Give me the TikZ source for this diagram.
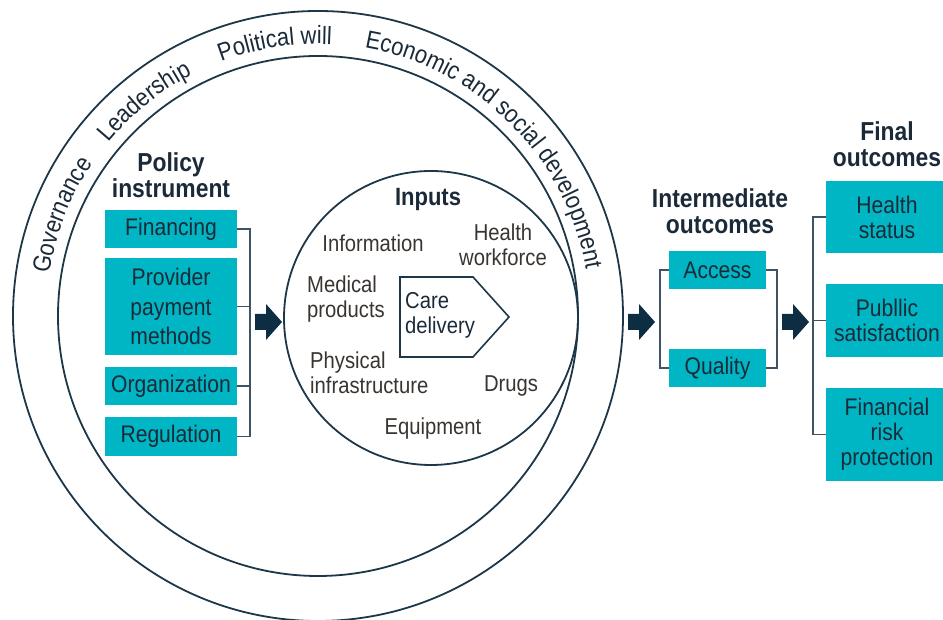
\documentclass[tikz,border=0pt]{standalone}
\usepackage{fontspec}
\setmainfont{Liberation Sans}[FakeStretch=0.88]
\usetikzlibrary{decorations.text}

\definecolor{tealbox}{RGB}{0,181,196}
\definecolor{ink}{RGB}{27,42,56}
\definecolor{ringc}{RGB}{30,55,72}
\definecolor{bracketc}{RGB}{62,84,100}
\definecolor{arrowc}{RGB}{12,45,66}
\definecolor{inputc}{RGB}{58,52,48}

\newcommand\boxfont{\fontsize{24pt}{25pt}\selectfont}
\newcommand\headfont{\fontsize{26pt}{26pt}\selectfont\bfseries}
\newcommand\inputfont{\fontsize{23pt}{25pt}\selectfont}
\newcommand\arcfont{\fontsize{25pt}{25pt}\selectfont}

\tikzset{
  tbox/.style={fill=tealbox, text=ink, font=\boxfont, align=center,
    inner sep=0pt, minimum width=132pt, minimum height=38pt},
  heading/.style={font=\headfont, text=ink, align=center, inner sep=0pt},
  inlabel/.style={font=\inputfont, text=inputc, inner sep=0pt},
  ring/.style={draw=ringc, line width=1.8pt},
  bracket/.style={draw=bracketc, line width=1.5pt},
  arctext/.style={decorate, decoration={text along path, text align=center,
    text color=ink, text={|\arcfont|#1}}},
  blockarrow/.pic={
    \fill[arrowc] (0,-8) -- (11,-8) -- (11,-18) -- (27,0) -- (11,18)
      -- (11,8) -- (0,8) -- cycle;}
}

\begin{document}
\begin{tikzpicture}[x=1pt, y=1pt]
\useasboundingbox (0,0) rectangle (943,620);
\clip (0,0) rectangle (943,620);

% context rings and the inputs circle
\coordinate (c) at (318,304);
\coordinate (ci) at (431,302);
\draw[ring] (c) circle[radius=305];
\draw[ring] (c) circle[radius=260];
\draw[ring] (ci) circle[radius=147];

% wording around the band between the two large rings
\path[arctext=Governance] (c) ++(176:272) arc[start angle=176, end angle=141, radius=272];
\path[arctext=Leadership] (c) ++(146:272) arc[start angle=146, end angle=112, radius=272];
\path[arctext={Political will}] (c) ++(117:272) arc[start angle=117, end angle=81, radius=272];
\path[arctext={Economic and social development}] (c) ++(86:272) arc[start angle=86, end angle=4, radius=272];

% policy instruments
\node[heading] (ptitle) at (171,445) {Policy\\instrument};
\node[tbox] (fin) at (171,391) {Financing};
\node[tbox, minimum height=97pt, font=\fontsize{24pt}{29.5pt}\selectfont] (prov) at (171,313.5) {Provider\\payment\\methods};
\node[tbox] (org) at (171,234) {Organization};
\node[tbox, minimum height=39pt] (reg) at (171,183.5) {Regulation};

\coordinate (pbx) at (250,0);
\draw[bracket] (fin.east) -- (fin.east -| pbx) -- (reg.east -| pbx) -- (reg.east);
\draw[bracket] (prov.east) -- (prov.east -| pbx);
\draw[bracket] (org.east) -- (org.east -| pbx);
\pic (arrA) at (255,298) {blockarrow};

% inputs
\node[heading, font=\fontsize{25pt}{25pt}\selectfont\bfseries] (inputs) at (428,420) {Inputs};
\node[inlabel] (info) at (373,377) {Information};
\node[inlabel, align=center] (hw) at (503,375.5) {Health\\workforce};
\node[inlabel, align=left, anchor=west] (med) at (307,320.5) {Medical\\products};
\node[inlabel, align=left, anchor=west] (phys) at (310,247) {Physical\\infrastructure};
\node[inlabel] (drugs) at (511,234) {Drugs};
\node[inlabel] (equip) at (433,191) {Equipment};

\draw[draw=ringc, line width=1.6pt] (400,343) -- (473,343) -- (509,303) -- (473,263) -- (400,263) -- cycle;
\node[inlabel, text=ink, align=left, anchor=west] (care) at (405,305) {Care\\delivery};

\pic (arrB) at (628,298) {blockarrow};

% intermediate outcomes
\node[heading] (ititle) at (720,409) {Intermediate\\outcomes};
\node[tbox, minimum width=97pt] (acc) at (717.5,350) {Access};
\node[tbox, minimum width=97pt] (qual) at (717.5,252) {Quality};
\coordinate (ilx) at (660,0);
\coordinate (irx) at (777,0);
\draw[bracket] (acc.west) -- (acc.west -| ilx) -- (qual.west -| ilx) -- (qual.west);
\draw[bracket] (acc.east) -- (acc.east -| irx) -- (qual.east -| irx) -- (qual.east);

\pic (arrC) at (782,298) {blockarrow};

% final outcomes
\node[heading] (ftitle) at (887,475.5) {Final\\outcomes};
\node[tbox, minimum width=122pt, minimum height=72pt] (hs) at (887,403) {Health\\status};
\node[tbox, minimum width=122pt, minimum height=73pt] (ps) at (887,299.5) {Publlic\\satisfaction};
\node[tbox, minimum width=122pt, minimum height=93pt] (frp) at (887,185.5) {Financial\\risk\\protection};
\coordinate (fbx) at (813,0);
\draw[bracket] (hs.west) -- (hs.west -| fbx) -- (frp.west -| fbx) -- (frp.west);
\draw[bracket] (ps.west) -- (ps.west -| fbx);
\end{tikzpicture}
\end{document}
